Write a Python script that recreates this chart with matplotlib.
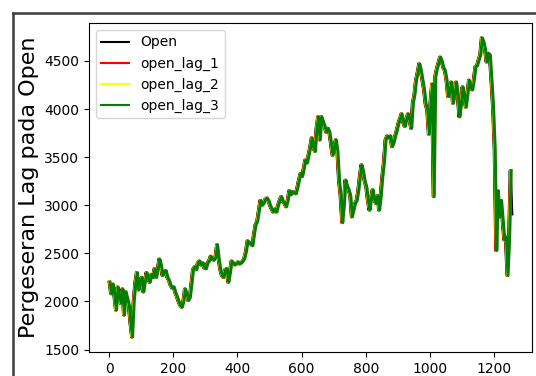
import numpy as np
import matplotlib
matplotlib.use("Agg")
import matplotlib.pyplot as plt
from matplotlib.lines import Line2D

# Daily opening price, sampled every 5 trading days
step_days = 5
open_price = [
    2200, 2080, 2180, 2060, 1910, 2150, 2060, 1980, 2130, 1860,
    2100, 2030, 1960, 1780, 1630, 1990, 2190, 2300, 2120, 2200,
    2250, 2100, 2210, 2300, 2240, 2200, 2280, 2250, 2340, 2250,
    2330, 2440, 2380, 2270, 2310, 2320, 2250, 2220, 2170, 2140,
    2150, 2090, 2050, 2000, 1960, 1940, 2000, 2130, 2080, 2010,
    2040, 2180, 2330, 2360, 2330, 2400, 2420, 2380, 2400, 2350,
    2340, 2400, 2420, 2470, 2440, 2430, 2460, 2590, 2440, 2330,
    2270, 2250, 2330, 2340, 2200, 2300, 2420, 2400, 2380, 2390,
    2410, 2390, 2400, 2420, 2450, 2520, 2630, 2600, 2610, 2580,
    2700, 2800, 2830, 2940, 3050, 3000, 3020, 3060, 3075, 3050,
    3000, 2960, 2930, 2960, 2930, 3000, 3050, 3090, 3040, 3020,
    2985, 3050, 3150, 3110, 3140, 3130, 3120, 3180, 3260, 3330,
    3300, 3380, 3470, 3440, 3520, 3600, 3700, 3600, 3560, 3800,
    3920, 3680, 3920, 3870, 3820, 3760, 3800, 3760, 3640, 3520,
    3600, 3680, 3560, 3260, 3100, 2820, 3000, 3260, 3200, 3160,
    3100, 2880, 2950, 3020, 3050, 3150, 3300, 3420, 3350, 3250,
    3190, 3050, 2950, 3080, 3160, 3050, 3020, 3100, 2950, 3100,
    3300, 3450, 3680, 3720, 3700, 3720, 3610, 3650, 3720, 3780,
    3850, 3900, 3950, 3860, 3820, 3900, 3950, 3880, 3800, 4060,
    4150, 4300, 4380, 4470, 4400, 4300, 4200, 4050, 3990, 3740,
    4060, 4260, 3090, 4340, 4420, 4480, 4540, 4500, 4430, 4400,
    4300, 4130, 4200, 4280, 4060, 4150, 4280, 4150, 3920, 4050,
    4230, 4150, 4020, 4150, 4300, 4220, 4200, 4300, 4440, 4450,
    4510, 4560, 4740, 4700, 4620, 4490, 4580, 4560, 4300, 4020,
    3600, 2530, 3150, 2880, 3050, 2840, 2640, 2670, 2270, 2650,
    3360, 2910,
]
lags = [1, 2, 3]
series_labels = ["Open", "open_lag_1", "open_lag_2", "open_lag_3"]
series_colors = ["black", "red", "yellow", "green"]
y_label = "Pergeseran Lag pada Open"

open_price = np.asarray(open_price, dtype=float)
day = np.arange(len(open_price)) * step_days
last_day = day[-1]

fig = plt.figure(figsize=(5.36, 3.76), dpi=100)
ax = fig.add_axes([0.166, 0.0638, 0.8265, 0.8752])

line_w = 2.2
ax.plot(day, open_price, color=series_colors[0], label=series_labels[0], lw=line_w)
# a lag of k days is the same price path moved k days to the right
for k, lab, col in zip(lags, series_labels[1:], series_colors[1:]):
    keep = day + k <= last_day
    ax.plot(day[keep] + k, open_price[keep], color=col, label=lab, lw=line_w)

ax.set_ylabel(y_label, fontsize=16)
ax.set_yticks([1500, 2000, 2500, 3000, 3500, 4000, 4500])
ax.set_xticks([0, 200, 400, 600, 800, 1000, 1200])
leg = ax.legend(loc="upper left")
for h in leg.get_lines():
    h.set_linewidth(1.5)

# notebook cell frame
frame_kw = dict(color="#3c3c3c", lw=1.8, transform=fig.transFigure)
x0, y0 = 12.5 / 536, 1 - 12.5 / 376
fig.add_artist(Line2D([x0, 1.0], [y0, y0], **frame_kw))
fig.add_artist(Line2D([x0, x0], [0.0, y0], **frame_kw))

fig.savefig("out.png", dpi=100)
